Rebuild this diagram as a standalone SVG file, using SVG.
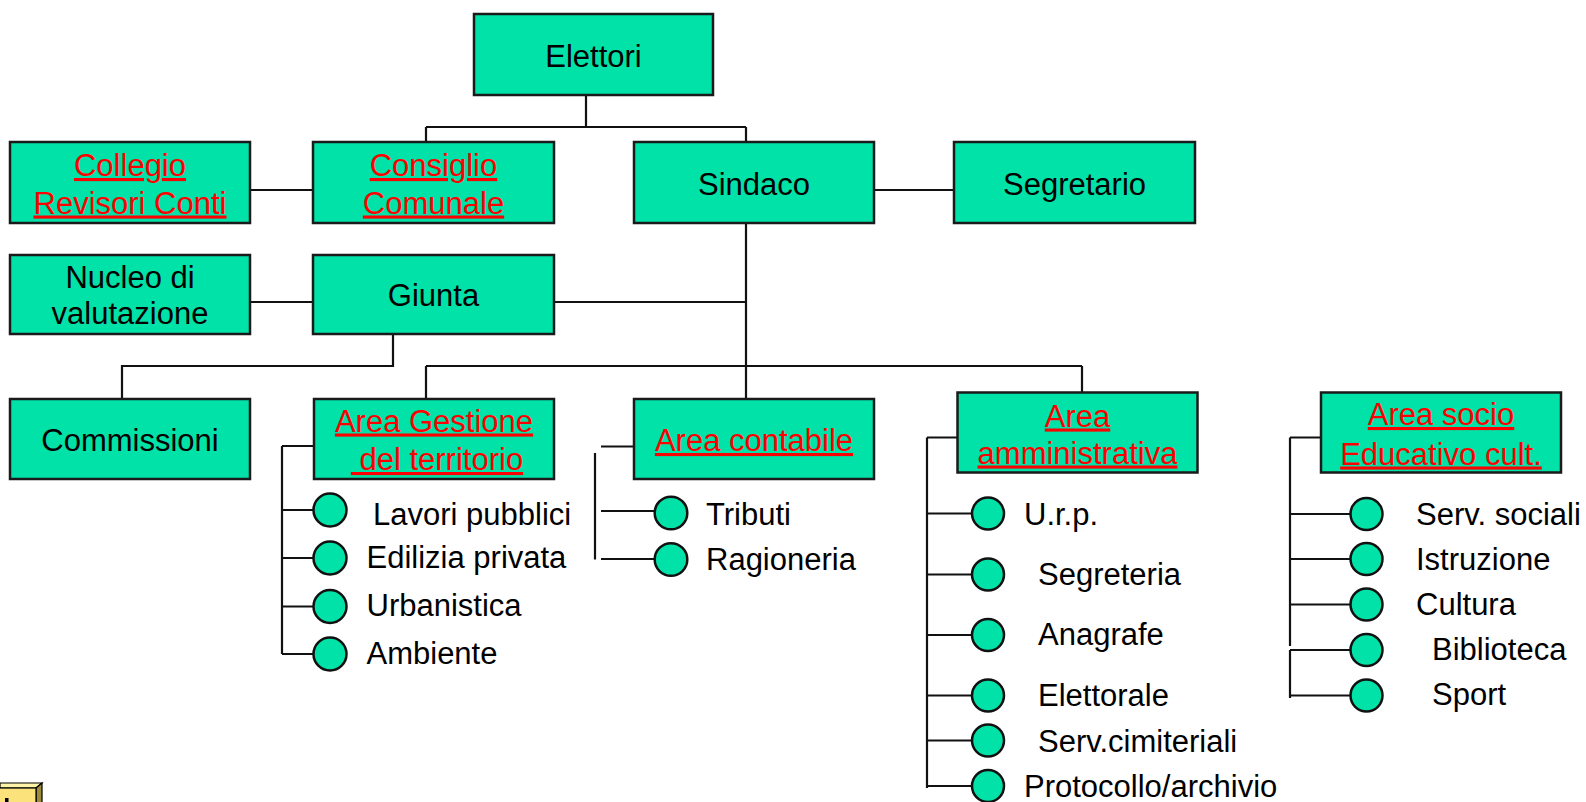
<svg xmlns="http://www.w3.org/2000/svg" width="1586" height="802" viewBox="0 0 1586 802">
<style>
.box{fill:#00E2A8;stroke:#1a1a1a;stroke-width:2.5}
.c{fill:#00E2A8;stroke:#111;stroke-width:2.5}
.ln{stroke:#111;stroke-width:2.2;fill:none}
text{font-family:"Liberation Sans",Arial,sans-serif;font-size:31px;fill:#000}
.m{text-anchor:middle}
.r{fill:#FF0000;text-decoration:underline}
</style>
<rect width="1586" height="802" fill="#ffffff"/>
<g id="connectors" class="ln">
<path d="M586,95V127M426,127H746M426,127V142M746,127V142"/>
<path d="M250,190H313M874,190H954"/>
<path d="M746,223V399M250,302H313M554,302H746"/>
<path d="M393,334V366H122V399M426,366H1082M426,366V399M1082,366V392"/>
<path d="M282,446V654M282,446H314M282,510H314M282,558H314M282,606.5H314M282,654H314"/>
<path d="M601,446.5H634M595,453V559.5M601,511H655M601,559H655"/>
<path d="M927,437.5V788M927,437.5H958M927,513.5H972M927,574.5H972M927,635H972M927,695.5H972M927,740.5H972M927,786H972"/>
<path d="M1290,437.5V646M1290,650V698M1290,437.5H1321M1290,514H1351M1290,559H1351M1290,604.5H1351M1290,650H1351M1290,695.5H1351"/>
</g>
<g id="elettori"><rect class="box" x="474" y="14" width="239" height="81"/><text class="m" x="593.5" y="67">Elettori</text></g>
<g id="collegio"><rect class="box" x="10" y="142" width="240" height="81"/><text class="m r" x="130" y="176">Collegio</text><text class="m r" x="130" y="213.5">Revisori Conti</text></g>
<g id="consiglio"><rect class="box" x="313" y="142" width="241" height="81"/><text class="m r" x="433.5" y="176">Consiglio</text><text class="m r" x="433.5" y="213.5">Comunale</text></g>
<g id="sindaco"><rect class="box" x="634" y="142" width="240" height="81"/><text class="m" x="754" y="195">Sindaco</text></g>
<g id="segretario"><rect class="box" x="954" y="142" width="241" height="81"/><text class="m" x="1074.5" y="195">Segretario</text></g>
<g id="nucleo"><rect class="box" x="10" y="255" width="240" height="79"/><text class="m" x="130" y="287.5">Nucleo di</text><text class="m" x="130" y="324">valutazione</text></g>
<g id="giunta"><rect class="box" x="313" y="255" width="241" height="79"/><text class="m" x="433.5" y="306">Giunta</text></g>
<g id="commissioni"><rect class="box" x="10" y="399" width="240" height="80"/><text class="m" x="130" y="450.5">Commissioni</text></g>
<g id="area-gestione"><rect class="box" x="314" y="399" width="240" height="80"/><text class="m r" x="434" y="431.5">Area Gestione</text><text class="m r" x="437" y="470" xml:space="preserve"> del territorio</text></g>
<g id="area-contabile"><rect class="box" x="634" y="399" width="240" height="80"/><text class="m r" x="754" y="451">Area contabile</text></g>
<g id="area-amministrativa"><rect class="box" x="957.5" y="392.5" width="240" height="80"/><text class="m r" x="1077.5" y="426.5">Area</text><text class="m r" x="1077.5" y="463.5">amministrativa</text></g>
<g id="area-socio"><rect class="box" x="1321" y="392.5" width="240" height="80"/><text class="m r" x="1441" y="425">Area socio</text><text class="m r" x="1441" y="464.5">Educativo cult.</text></g>
<g id="lavori-pubblici"><circle class="c" cx="330" cy="510" r="16.5"/><text x="373" y="525">Lavori pubblici</text></g>
<g id="edilizia-privata"><circle class="c" cx="330" cy="558" r="16.5"/><text x="366.5" y="567.5">Edilizia privata</text></g>
<g id="urbanistica"><circle class="c" cx="330" cy="606.5" r="16.5"/><text x="366.5" y="615.5">Urbanistica</text></g>
<g id="ambiente"><circle class="c" cx="330" cy="654" r="16.5"/><text x="366.5" y="663.5">Ambiente</text></g>
<g id="tributi"><circle class="c" cx="671" cy="513" r="16.3"/><text x="706" y="524.5">Tributi</text></g>
<g id="ragioneria"><circle class="c" cx="671" cy="559.5" r="16.3"/><text x="706" y="570">Ragioneria</text></g>
<g id="urp"><circle class="c" cx="988" cy="513.5" r="16"/><text x="1024" y="524.5">U.r.p.</text></g>
<g id="segreteria"><circle class="c" cx="988" cy="574.5" r="16"/><text x="1038" y="585">Segreteria</text></g>
<g id="anagrafe"><circle class="c" cx="988" cy="635" r="16"/><text x="1038" y="645">Anagrafe</text></g>
<g id="elettorale"><circle class="c" cx="988" cy="695.5" r="16"/><text x="1038" y="706">Elettorale</text></g>
<g id="serv-cimiteriali"><circle class="c" cx="988" cy="740.5" r="16"/><text x="1038" y="751.5">Serv.cimiteriali</text></g>
<g id="protocollo"><circle class="c" cx="988" cy="786" r="16"/><text x="1024" y="796.5">Protocollo/archivio</text></g>
<g id="serv-sociali"><circle class="c" cx="1366.5" cy="514" r="16"/><text x="1416" y="525">Serv. sociali</text></g>
<g id="istruzione"><circle class="c" cx="1366.5" cy="559" r="16"/><text x="1416" y="570">Istruzione</text></g>
<g id="cultura"><circle class="c" cx="1366.5" cy="604.5" r="16"/><text x="1416" y="615">Cultura</text></g>
<g id="biblioteca"><circle class="c" cx="1366.5" cy="650" r="16"/><text x="1432" y="660">Biblioteca</text></g>
<g id="sport"><circle class="c" cx="1366.5" cy="695.5" r="16"/><text x="1432" y="705">Sport</text></g>
<g id="action-button">
<polygon points="0,783 42,783 36,788 0,788" fill="#FFF3A8" stroke="#000" stroke-width="1.2"/>
<polygon points="36,788 42,783 42,803 36,803" fill="#9C8C3C" stroke="#000" stroke-width="1.2"/>
<rect x="-1" y="788" width="37" height="16" fill="#FBE27A" stroke="#000" stroke-width="1.2"/>
<rect x="5" y="798" width="3.5" height="5" fill="#000"/>
</g>
</svg>
